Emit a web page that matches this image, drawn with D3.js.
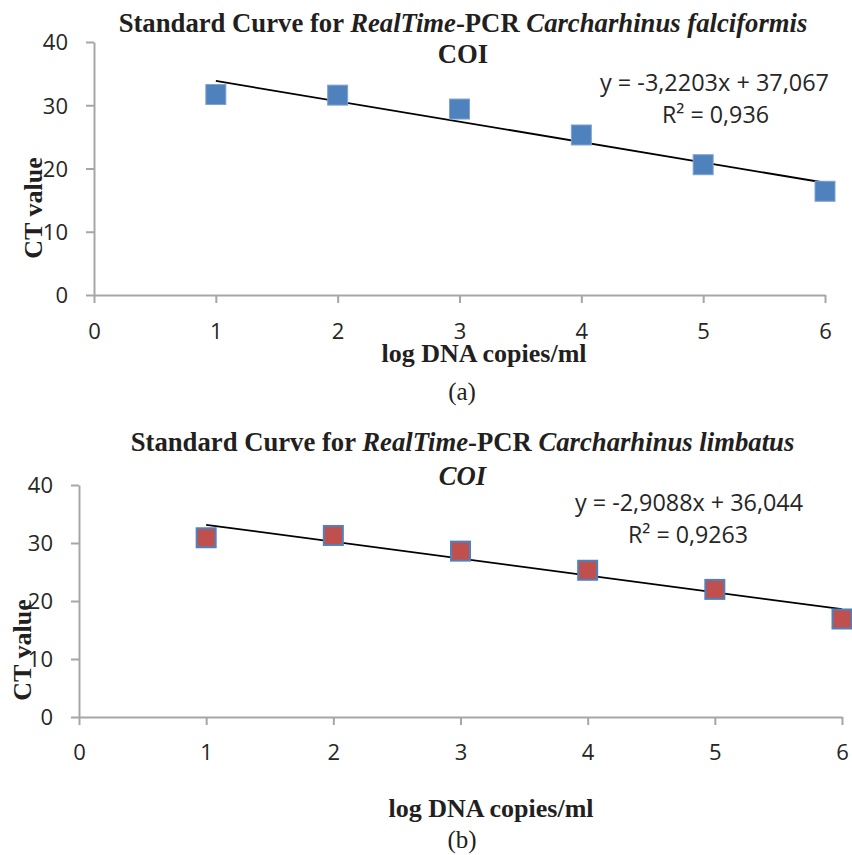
<!DOCTYPE html>
<html>
<head>
<meta charset="utf-8">
<script src="https://cdn.jsdelivr.net/npm/d3@7"></script>
<style>
  html, body { margin: 0; padding: 0; background: #fff; }
  svg { display: block; }
  .serif { font-family: "Liberation Serif", "Times New Roman", serif; fill: #231F20; }
  .sans { font-family: "Open Sans", "Liberation Sans", sans-serif; fill: #262626; }
</style>
</head>
<body>
<svg id="chart" width="852" height="855"></svg>
<script>
// ---- data ----
const xTickValues = [0, 1, 2, 3, 4, 5, 6];
const yTickValues = [0, 10, 20, 30, 40];
const logCopies = [1, 2, 3, 4, 5, 6];
const ctFalciformis = [31.7, 31.6, 29.4, 25.3, 20.6, 16.4];
const ctLimbatus = [30.9, 31.3, 28.6, 25.3, 22.0, 16.9];
const fitFalciformis = [-3.2203, 37.067]; // slope, intercept
const fitLimbatus = [-2.9088, 36.044];
const eqFalciformis = ["y = -3,2203x + 37,067", "R² = 0,936"];
const eqLimbatus = ["y = -2,9088x + 36,044", "R² = 0,9263"];

const svg = d3.select("#chart");
const AX = "#A6A6A6";

function panel(cfg) {
  const x = d3.scaleLinear().domain([0, 6]).range(cfg.xr);
  const y = d3.scaleLinear().domain([0, 40]).range(cfg.yr);
  const g = svg.append("g");

  // y axis
  const ya = g.append("g").attr("transform", `translate(${cfg.xr[0]},0)`)
    .call(d3.axisLeft(y).tickValues(yTickValues).tickFormat(d3.format("d")).tickSize(8).tickSizeOuter(0).tickPadding(18));
  // x axis
  const xa = g.append("g").attr("transform", `translate(0,${cfg.yr[0]})`)
    .call(d3.axisBottom(x).tickValues(xTickValues).tickFormat(d3.format("d")).tickSize(8).tickSizeOuter(0));
  [ya, xa].forEach(a => {
    a.select(".domain").attr("stroke", AX).attr("stroke-width", 2);
    a.selectAll(".tick line").attr("stroke", AX).attr("stroke-width", 2);
    a.selectAll("text").attr("class", "sans").attr("font-size", 22).attr("fill", "#262626");
  });
  ya.selectAll("text").attr("dy", "0.36em");
  xa.selectAll("text").attr("y", cfg.xLabelBase - cfg.yr[0]).attr("dy", 0);

  // trend line
  const line = d3.line().x(d => x(d)).y(d => y(cfg.fit[0] * d + cfg.fit[1]));
  g.append("path").datum([logCopies[0], logCopies[logCopies.length - 1]])
    .attr("d", line).attr("fill", "none").attr("stroke", "#000").attr("stroke-width", 1.8);

  // markers
  g.selectAll("rect.pt").data(logCopies.map((d, i) => [d, cfg.vals[i]]))
    .enter().append("rect").attr("class", "pt")
    .attr("x", d => x(d[0]) - cfg.ms / 2).attr("y", d => y(d[1]) - cfg.ms / 2)
    .attr("width", cfg.ms).attr("height", cfg.ms)
    .attr("fill", cfg.fill).attr("stroke", cfg.stroke).attr("stroke-width", cfg.sw);

  // title
  const t = g.append("text").attr("class", "serif").attr("font-size", 26.7).attr("font-weight", "bold")
    .attr("text-anchor", "middle").attr("x", cfg.titleX).attr("y", cfg.titleY);
  cfg.title.forEach(([s, it]) => t.append("tspan").attr("font-style", it ? "italic" : "normal").text(s));
  g.append("text").attr("class", "serif").attr("font-size", 26.7).attr("font-weight", "bold")
    .attr("font-style", cfg.coiItalic ? "italic" : "normal")
    .attr("text-anchor", "middle").attr("x", cfg.titleX).attr("y", cfg.coiY).text("COI");

  // equation
  cfg.eqPos.forEach((p, i) => {
    g.append("text").attr("class", "sans").attr("font-size", 23)
      .attr("x", p[0]).attr("y", p[1]).attr("textLength", p[2]).attr("lengthAdjust", "spacingAndGlyphs")
      .text(cfg.eq[i]);
  });

  // axis titles
  g.append("text").attr("class", "serif").attr("font-size", 26).attr("font-weight", "bold")
    .attr("text-anchor", "middle").attr("x", cfg.xTitle[0]).attr("y", cfg.xTitle[1]).text("log DNA copies/ml");
  g.append("text").attr("class", "serif").attr("font-size", 26).attr("font-weight", "bold")
    .attr("text-anchor", "middle")
    .attr("transform", `translate(${cfg.yTitle[0]},${cfg.yTitle[1]}) rotate(-90)`).text("CT value");
  g.append("text").attr("class", "serif").attr("font-size", 25)
    .attr("text-anchor", "middle").attr("x", cfg.tag[0]).attr("y", cfg.tag[1]).text(cfg.tag[2]);
}

panel({
  xr: [94, 825], yr: [295, 42], xLabelBase: 339,
  vals: ctFalciformis, fit: fitFalciformis, ms: 20,
  fill: "#4F81BD", stroke: "#7FA3D1", sw: 1,
  title: [["Standard Curve for ", false], ["RealTime", true], ["-PCR ", false], ["Carcharhinus falciformis", true]],
  titleX: 463, titleY: 32, coiY: 63, coiItalic: false,
  eq: eqFalciformis, eqPos: [[600, 91, 229], [662, 123, 107]],
  xTitle: [484, 362], yTitle: [42, 208], tag: [462, 400, "(a)"]
});

panel({
  xr: [79, 842], yr: [717, 485], xLabelBase: 760,
  vals: ctLimbatus, fit: fitLimbatus, ms: 19,
  fill: "#C0504D", stroke: "#4F81BD", sw: 2,
  title: [["Standard Curve for ", false], ["RealTime", true], ["-PCR ", false], ["Carcharhinus limbatus", true]],
  titleX: 462.5, titleY: 451, coiY: 485, coiItalic: true,
  eq: eqLimbatus, eqPos: [[575, 511, 228], [628, 543, 120]],
  xTitle: [491, 817], yTitle: [31, 650], tag: [462, 848, "(b)"]
});
</script>
</body>
</html>
